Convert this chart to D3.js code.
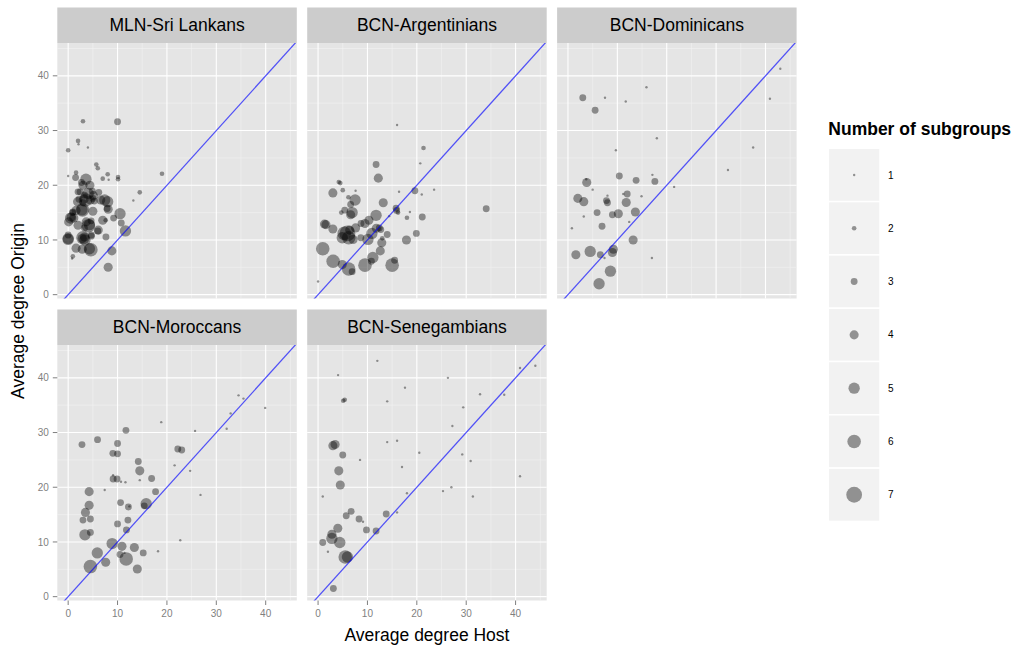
<!DOCTYPE html>
<html>
<head>
<meta charset="utf-8">
<script src="https://cdn.jsdelivr.net/npm/d3@7"></script>
<style>
  body { margin: 0; background: #ffffff; }
  svg text { font-family: "Liberation Sans", Arial, Helvetica, sans-serif; }
</style>
</head>
<body>
<svg id="chart" width="1019" height="649"></svg>
<script>
// Each point: [average degree host, average degree origin, number of subgroups]
const sriLankans = [
  [3.0,31.7,2],[10.0,31.6,3],[2.0,28.1,2],[2.1,27.5,1],[4.0,26.9,1],[0.0,26.4,2],
  [5.7,23.8,2],[6.0,23.1,2],[1.6,22.3,2],[0.0,21.7,1],[1.5,21.4,3],[3.6,21.1,5],
  [8.0,22.0,2],[7.0,21.2,2],[8.2,21.0,1],[10.1,21.5,2],[10.1,21.1,2],[19.0,22.1,2],
  [14.5,18.7,2],[13.2,17.2,1],
  [2.7,20.5,3],[3.0,20.0,4],[4.4,20.0,4],[2.4,18.8,3],[4.05,18.5,5],[4.9,18.9,3],[5.1,18.1,4],[1.9,17.0,4],
  [6.2,18.7,3],[7.4,17.3,5],[6.6,17.3,4],[3.3,18.2,3],[2.0,18.8,3],[5.0,17.6,3],
  [2.2,17.45,3],[3.25,17.5,4],[4.5,17.3,4],[5.3,17.1,3],[3.5,17.3,6],[8.0,17.0,5],[3.0,16.8,3],
  [2.8,15.5,5],[0.95,15.1,3],[5.0,15.25,4],[7.9,15.75,3],[8.1,15.6,4],[1.6,15.4,4],[2.9,15.5,6],
  [0.6,14.2,4],[1.15,14.0,4],[0.1,13.3,4],[3.65,13.3,4],[4.3,12.8,5],[4.65,13.5,3],[4.1,12.6,6],
  [3.3,12.2,3],[2.0,12.7,4],[7.0,13.6,4],[7.6,13.6,2],[9.2,14.0,3],[10.5,14.8,5],[10.75,13.1,3],
  [6.1,11.8,4],[6.0,11.65,3],[11.6,11.65,5],[7.65,10.55,3],
  [2.85,10.25,4],[3.3,10.55,4],[4.7,10.9,3],[3.0,10.4,6],[3.4,10.0,5],[0.0,10.9,3],[0.0,10.25,5],[0.0,10.1,5],
  [1.6,8.5,4],[2.85,8.3,4],[4.3,8.4,5],[4.6,8.2,6],[0.95,7.0,2],[0.8,6.6,1],
  [8.85,8.0,4],[8.1,5.0,4],[4.7,10.7,3],[0.5,14.0,5],[0.9,15.0,3]
];

const argentinians = [
  [16.0,31.0,1],[21.35,26.8,2],[20.7,24.0,1],[11.75,23.8,3],[12.2,21.3,4],[4.2,20.6,2],[4.5,20.4,2],
  [3.0,18.6,4],[5.0,19.1,2],[7.6,19.0,1],[16.4,18.8,1],[19.6,19.0,3],[21.0,18.3,1],[23.5,19.2,1],
  [34.05,15.7,3],[6.15,17.8,2],[7.5,17.3,5],[6.6,16.5,3],[5.4,15.45,3],[4.7,15.0,2],[6.9,15.0,5],[6.6,14.6,4],
  [13.2,16.8,4],[15.8,15.8,3],[16.2,15.0,2],[15.9,15.4,3],[18.6,15.1,1],[18.0,14.05,2],[21.1,14.2,3],
  [11.75,14.5,5],[10.3,13.6,4],[9.5,13.0,4],[8.7,13.0,3],[7.6,12.2,4],[1.6,12.8,4],[1.3,12.9,4],[3.0,12.0,4],
  [5.3,11.2,6],[5.95,11.2,7],[6.2,10.4,6],[4.9,10.4,5],[7.1,10.1,4],[6.4,11.8,4],
  [10.9,11.2,5],[11.8,12.15,4],[12.7,11.9,3],[12.4,12.2,3],[14.0,11.0,3],[13.0,10.3,2],[10.1,10.1,5],[8.65,10.4,3],
  [12.9,9.5,4],[12.6,8.0,4],[17.9,10.0,4],[19.9,11.2,3],
  [0.95,8.4,6],[3.05,6.1,6],[4.9,5.5,4],[6.2,4.7,6],[6.9,4.2,3],[9.5,5.4,6],[11.1,6.8,5],[10.8,6.1,3],
  [15.0,5.4,6],[15.5,6.3,3],[0.0,2.4,1],[14.4,14.35,1]
];

const dominicans = [
  [43.0,41.3,1],[40.9,35.8,1],[15.9,37.9,1],[3.0,36.0,3],[7.5,36.0,1],[11.7,35.3,1],[5.5,33.7,3],
  [18.0,28.6,1],[37.5,26.9,1],[9.7,26.4,1],[32.4,22.8,1],[10.4,21.7,3],[17.1,21.9,1],[3.7,21.1,1],[3.8,20.5,4],
  [13.8,20.9,3],[17.6,20.7,3],[21.5,19.7,1],[5.0,19.2,1],[8.0,18.1,1],[11.2,18.4,1],[12.0,18.4,3],[14.9,18.0,1],
  [2.0,17.6,4],[3.2,17.0,4],[7.8,17.2,3],[8.0,16.8,3],[11.8,16.85,4],[5.9,15.0,3],[9.0,14.6,3],[10.2,14.8,4],
  [13.65,15.1,4],[3.2,14.3,1],[6.9,12.5,3],[12.4,13.3,1],[0.8,12.15,1],[13.2,10.0,4],[4.5,7.9,5],[1.6,7.3,4],
  [6.55,7.3,3],[7.4,6.7,1],[9.2,8.3,4],[9.0,7.7,4],[17.0,6.7,1],[8.6,4.3,5],[6.3,2.0,5]
];

const moroccans = [
  [39.9,34.5,1],[34.5,36.8,1],[35.5,36.2,1],[32.9,33.5,1],[32.1,30.7,1],[25.7,30.3,1],[18.85,31.9,1],
  [11.7,30.4,3],[5.95,28.7,3],[2.8,27.8,3],[10.0,28.0,3],[9.05,26.2,3],[10.0,26.1,3],[22.2,27.0,3],[23.0,26.8,3],
  [21.55,24.0,1],[24.7,23.0,1],[14.2,24.7,3],[14.5,23.0,4],[16.9,21.6,3],[14.5,21.3,1],[9.1,22.2,1],[9.1,21.5,3],
  [9.9,21.5,3],[10.7,21.0,1],[11.6,20.9,1],[7.4,19.5,1],[17.7,19.2,3],[26.8,18.6,1],[4.25,19.2,4],[10.6,17.2,3],
  [4.25,16.7,4],[15.8,17.0,5],[15.4,16.6,3],[12.2,16.4,3],[12.4,16.5,1],[3.5,15.4,4],[3.0,14.0,3],[4.5,14.2,3],
  [12.1,14.0,3],[10.0,13.3,3],[11.8,12.2,3],[4.5,11.75,3],[3.4,11.3,5],[22.7,10.3,1],[8.9,9.7,5],[10.9,9.2,4],
  [13.4,9.0,4],[18.2,8.3,1],[5.9,8.0,5],[10.5,7.7,3],[11.4,8.0,1],[15.2,8.0,3],[11.75,6.9,6],[7.6,6.3,4],
  [4.5,5.5,6],[14.0,5.05,4]
];

const senegambians = [
  [12.0,43.1,1],[4.05,40.5,1],[26.3,40.0,1],[44.0,42.2,1],[40.9,41.8,1],[17.6,38.2,1],[32.8,37.0,1],[37.7,36.9,1],
  [14.0,35.7,1],[5.1,35.8,2],[5.4,36.0,2],[29.4,34.6,1],[27.2,31.2,1],[14.0,28.25,1],[16.0,28.5,1],
  [3.0,27.6,4],[3.45,27.8,4],[20.5,26.3,1],[29.2,26.0,1],[5.0,25.9,3],[8.5,25.0,1],[30.9,24.8,1],[17.0,23.7,1],
  [4.2,23.0,4],[40.9,22.0,1],[4.5,20.4,4],[27.0,20.0,1],[25.3,19.3,1],[18.0,18.9,1],[0.95,18.3,1],[31.35,18.3,1],
  [6.7,15.6,3],[5.7,14.8,3],[16.0,15.4,1],[13.8,15.1,3],[8.3,14.2,3],[9.1,13.7,1],[9.8,12.2,3],[11.75,12.0,3],
  [4.0,12.5,4],[2.8,11.4,4],[2.8,10.65,5],[4.4,9.9,5],[0.95,9.9,3],[2.0,8.2,1],[5.5,7.25,6],[5.95,7.25,5],[3.1,1.5,3]
];

const panelTitles = ["MLN-Sri Lankans", "BCN-Argentinians", "BCN-Dominicans", "BCN-Moroccans", "BCN-Senegambians"];
const xTicks = [0, 10, 20, 30, 40];
const yTicks = [0, 10, 20, 30, 40];
const minorTicks = [5, 15, 25, 35, 45];
const sizeLevels = [1, 2, 3, 4, 5, 6, 7];

const xLabel = "Average degree Host";
const yLabel = "Average degree Origin";
const legendTitle = "Number of subgroups";

// ---- layout ----
const svg = d3.select("#chart");
const panelW = 239.5, stripH = 35.5, plotH = 255.5;
const colLeft = [57.3, 307.2, 557.1];
const rowTop = [7.5, 309.5];
const nCols = 3;

const x = d3.scaleLinear().domain([-2.2, 46.3]).range([0, panelW]);
const y = d3.scaleLinear().domain([-0.7, 46.0]).range([plotH, 0]);
const r = d3.scaleLinear().domain([1, 7]).range([1.2, 7.9]);

const datasets = [sriLankans, argentinians, dominicans, moroccans, senegambians];
const defs = svg.append("defs");
defs.append("clipPath").attr("id", "panel-clip")
  .append("rect").attr("width", panelW).attr("height", plotH);

datasets.forEach((rows, i) => {
  const col = i % nCols, row = Math.floor(i / nCols);
  const g = svg.append("g")
    .attr("transform", `translate(${colLeft[col]},${rowTop[row]})`);

  // strip
  g.append("rect").attr("width", panelW).attr("height", stripH).attr("fill", "#cccccc");
  g.append("text")
    .attr("x", panelW / 2).attr("y", stripH / 2 + 6)
    .attr("text-anchor", "middle")
    .attr("font-size", 17.5).attr("fill", "#000")
    .text(panelTitles[i]);

  const p = g.append("g").attr("transform", `translate(0,${stripH})`);
  p.append("rect").attr("width", panelW).attr("height", plotH).attr("fill", "#e5e5e5");

  // minor grid
  p.selectAll(".vminor").data(minorTicks).join("line")
    .attr("x1", d => x(d)).attr("x2", d => x(d)).attr("y1", 0).attr("y2", plotH)
    .attr("stroke", "#f2f2f2").attr("stroke-width", 0.6);
  p.selectAll(".hminor").data(minorTicks).join("line")
    .attr("y1", d => y(d)).attr("y2", d => y(d)).attr("x1", 0).attr("x2", panelW)
    .attr("stroke", "#f2f2f2").attr("stroke-width", 0.6);
  // major grid
  p.selectAll(".vmajor").data(xTicks).join("line")
    .attr("x1", d => x(d)).attr("x2", d => x(d)).attr("y1", 0).attr("y2", plotH)
    .attr("stroke", "#ffffff").attr("stroke-width", 1.1);
  p.selectAll(".hmajor").data(yTicks).join("line")
    .attr("y1", d => y(d)).attr("y2", d => y(d)).attr("x1", 0).attr("x2", panelW)
    .attr("stroke", "#ffffff").attr("stroke-width", 1.1);

  const clipped = p.append("g").attr("clip-path", "url(#panel-clip)");

  // points
  clipped.selectAll("circle").data(rows).join("circle")
    .attr("cx", d => x(d[0])).attr("cy", d => y(d[1])).attr("r", d => r(d[2]))
    .attr("fill", "#000").attr("fill-opacity", 0.4);

  // reference line: origin degree = host degree
  clipped.append("line")
    .attr("x1", x(-2.2)).attr("y1", y(-2.2)).attr("x2", x(46.3)).attr("y2", y(46.3))
    .attr("stroke", "#0000ff").attr("stroke-opacity", 0.65).attr("stroke-width", 1.25);

  // y axis on first column
  if (col === 0) {
    const ya = p.append("g");
    ya.selectAll("line").data(yTicks).join("line")
      .attr("x1", -4.5).attr("x2", 0).attr("y1", d => y(d)).attr("y2", d => y(d))
      .attr("stroke", "#7f7f7f").attr("stroke-width", 1);
    ya.selectAll("text").data(yTicks).join("text")
      .attr("x", -8.5).attr("y", d => y(d)).attr("dy", "0.36em")
      .attr("text-anchor", "end").attr("font-size", 10).attr("fill", "#7f7f7f")
      .text(d => d);
  }
  // x axis on bottom row panels
  if (row === 1) {
    const xa = p.append("g").attr("transform", `translate(0,${plotH})`);
    xa.selectAll("line").data(xTicks).join("line")
      .attr("x1", d => x(d)).attr("x2", d => x(d)).attr("y1", 0).attr("y2", 4.5)
      .attr("stroke", "#7f7f7f").attr("stroke-width", 1);
    xa.selectAll("text").data(xTicks).join("text")
      .attr("x", d => x(d)).attr("y", 16.5)
      .attr("text-anchor", "middle").attr("font-size", 10).attr("fill", "#7f7f7f")
      .text(d => d);
  }
});

// axis titles
svg.append("text")
  .attr("x", (colLeft[0] + colLeft[2] + panelW) / 2).attr("y", 641)
  .attr("text-anchor", "middle").attr("font-size", 17.5).attr("fill", "#000")
  .text(xLabel);
svg.append("text")
  .attr("transform", "translate(24,311) rotate(-90)")
  .attr("text-anchor", "middle").attr("font-size", 17.5).attr("fill", "#000")
  .text(yLabel);

// size legend
const lg = svg.append("g").attr("transform", "translate(828.3,0)");
lg.append("text")
  .attr("x", 0).attr("y", 135)
  .attr("font-size", 17.5).attr("font-weight", "bold").attr("fill", "#000")
  .text(legendTitle);
const keyH = 53.3, keyW = 51.7, keyTop = 148.3;
const keys = lg.selectAll(".key").data(sizeLevels).join("g")
  .attr("transform", (d, i) => `translate(0,${keyTop + i * keyH})`);
keys.append("rect")
  .attr("width", keyW).attr("height", keyH)
  .attr("fill", "#f2f2f2").attr("stroke", "#ffffff").attr("stroke-width", 1.5);
keys.append("circle")
  .attr("cx", keyW / 2).attr("cy", keyH / 2).attr("r", d => r(d))
  .attr("fill", "#000").attr("fill-opacity", 0.4);
keys.append("text")
  .attr("x", keyW + 8).attr("y", keyH / 2).attr("dy", "0.36em")
  .attr("font-size", 10).attr("fill", "#000")
  .text(d => d);
</script>
</body>
</html>
